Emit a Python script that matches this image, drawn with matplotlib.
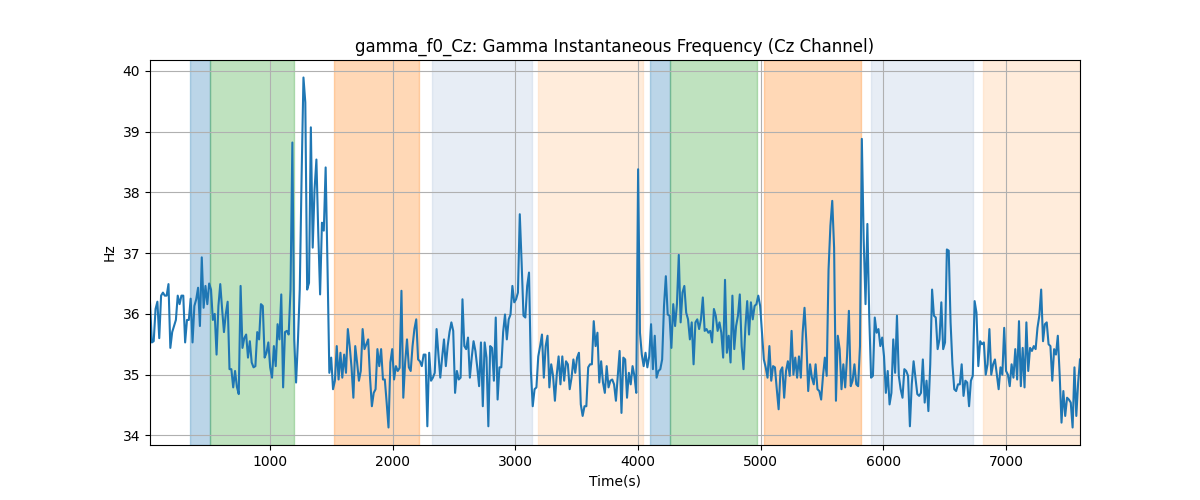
import numpy as np
import matplotlib
matplotlib.use("Agg")
import matplotlib.pyplot as plt

# gamma instantaneous frequency, Cz channel (Hz)
gamma_f0 = [
    36.19, 35.53, 35.55, 36.08, 36.2, 35.6, 36.3, 36.35, 36.3, 36.3, 36.49, 35.44, 35.7, 35.8, 35.9,
    36.3, 36.16, 36.3, 36.3, 35.53, 35.9, 35.9, 36.25, 35.53, 36.13, 36.24, 36.43, 35.8, 36.93, 36.1,
    36.46, 36.16, 36.5, 36.4, 35.9, 36.0, 35.33, 36.13, 36.49, 36.08, 35.7, 36.0, 36.2, 35.09, 35.09,
    34.79, 35.06, 34.8, 34.68,
    36.46, 35.44, 35.6, 35.66, 35.28, 35.55, 35.2, 35.12, 35.14, 35.7, 35.58, 36.16, 36.13, 35.28,
    35.36, 35.53, 35.12, 34.95, 35.47, 35.14, 35.83, 35.58, 36.32, 34.79, 35.7, 35.72, 35.66, 36.4,
    38.82, 35.58, 34.87, 35.55, 36.4, 38.27, 39.89, 39.48, 36.4, 36.51, 39.07, 37.09, 38.05, 38.54,
    37.34, 36.32, 37.5, 37.37, 38.41, 36.79, 35.03,
    35.28, 34.76, 34.9, 35.47, 34.92, 35.36, 34.95, 35.33, 35.03, 35.75, 35.47, 35.12, 34.62, 35.47,
    35.2, 34.9, 35.06, 35.75, 35.42, 35.5, 35.58, 34.95, 34.48, 34.7, 34.76, 35.42, 35.14, 35.42,
    34.92, 34.92, 34.54, 34.13, 35.2, 35.42, 34.92, 35.14, 35.06, 35.11, 36.38, 34.62, 35.2, 35.58,
    35.12, 35.06, 35.47, 35.75, 35.91, 35.25, 35.22, 35.14,
    35.33, 35.33, 34.15, 35.36, 34.9, 34.95, 35.03, 35.75, 35.33, 34.95, 35.28, 35.58, 35.14, 35.47,
    35.7, 35.86, 35.72, 34.7, 35.06, 34.92, 34.95, 36.24, 35.47, 35.42, 35.61, 34.95, 35.28, 35.55,
    35.39, 35.12, 34.81, 35.53, 34.48, 35.53, 35.28, 34.15, 35.47, 35.44, 34.9, 35.94, 34.59, 35.12,
    35.12, 35.7, 35.99, 35.58, 35.91, 35.99, 36.46,
    36.19, 36.24, 36.35, 37.64, 36.84, 35.97, 35.94, 36.46, 36.68, 35.06, 34.48, 34.76, 34.79, 35.3,
    35.47, 35.66, 34.95, 35.47, 35.64, 34.79, 35.17, 34.98, 34.57, 35.0, 35.3, 34.84, 35.3, 34.9,
    35.22, 35.17, 34.76, 34.95, 35.25, 35.03, 35.28, 35.36, 34.51, 34.32, 34.48, 34.48, 35.12, 35.17,
    35.17, 35.88, 35.47, 35.69, 34.87, 35.22, 34.87, 34.7, 35.14,
    34.79, 34.9, 34.92, 34.84, 34.57, 34.98, 35.39, 34.37, 35.28, 35.25, 34.62, 35.03, 34.84, 35.14,
    34.98, 34.7, 38.38, 35.69, 35.33, 35.14, 35.36, 35.12, 35.3, 35.83, 35.09, 35.64, 34.95, 35.06,
    35.09, 35.25, 36.13, 36.62, 35.99, 35.97, 35.44, 36.16, 35.8, 36.16, 36.97, 35.86, 36.35, 36.46,
    36.02, 35.91, 35.58, 35.86, 35.17, 35.86, 35.91, 35.75,
    35.91, 36.27, 35.72, 35.75, 35.69, 35.72, 35.53, 36.08, 35.97, 35.72, 35.86, 35.69, 35.28, 36.56,
    35.36, 35.64, 35.2, 36.3, 35.42, 35.8, 35.97, 36.32, 35.47, 35.09, 35.77, 36.21, 35.66, 36.19,
    35.91, 36.13, 36.16, 36.3, 36.13, 35.69, 35.25, 35.12, 34.95, 35.47, 34.9, 35.14, 35.12, 34.76,
    34.43, 35.06, 35.12, 34.62, 35.06, 35.22, 34.98, 35.72, 35.0,
    35.28, 34.95, 35.3, 34.95, 35.69, 36.1, 35.53, 34.73, 35.17, 34.95, 34.84, 35.17, 34.76, 34.73,
    34.59, 34.98, 35.28, 34.98, 36.73, 37.45, 37.86, 37.09, 34.57, 35.64, 35.42, 34.76, 35.17, 34.79,
    35.3, 36.05, 34.81, 34.9, 35.17, 34.84, 34.81, 35.47, 38.88, 37.23, 36.16, 37.48, 35.97, 34.95,
    34.98, 35.94, 35.69, 35.75, 35.47, 35.61, 35.3, 34.7, 35.06,
    34.51, 34.7, 35.58, 35.03, 35.97, 34.98, 34.76, 34.62, 35.09, 35.06, 34.98, 34.15, 34.84, 35.22,
    34.95, 34.68, 34.65, 34.7, 35.25, 34.54, 34.9, 34.4, 35.17, 36.4, 35.97, 35.94, 35.42, 35.58,
    36.19, 35.42, 35.53, 37.06, 37.04, 35.86, 35.17, 34.76, 34.73, 34.84, 34.84, 35.17, 34.65, 34.9,
    34.87, 34.48, 34.9, 34.98, 36.21, 36.02, 35.14,
    35.55, 35.5, 35.53, 35.0, 35.17, 35.75, 35.0, 35.17, 35.25, 35.0, 34.76, 35.12, 35.0, 35.77,
    35.06, 35.0, 34.81, 35.17, 34.95, 35.42, 34.92, 35.88, 34.81, 35.44, 34.79, 35.86, 35.06, 35.44,
    35.39, 35.47, 35.42, 35.77, 35.97, 36.4, 35.55, 35.83, 35.86, 35.5, 35.47, 34.9, 35.42, 35.33,
    35.64, 35.0, 34.21, 34.73, 34.32, 34.62, 34.59, 34.54, 34.13, 35.12, 34.32, 34.87, 35.25,
]

# recording window (s)
t_start, t_end = 22, 7603

# task segments: (start, end, colour, alpha)
seg_start = [348, 509, 1522, 2321, 3185, 4098, 4263, 5027, 5900, 6813]
seg_end = [509, 1193, 2212, 3134, 4041, 4263, 4968, 5816, 6731, 7603]
seg_color = ['tab:blue', 'tab:green', 'tab:orange', 'lightsteelblue', 'peachpuff',
             'tab:blue', 'tab:green', 'tab:orange', 'lightsteelblue', 'peachpuff']
seg_alpha = [0.3, 0.3, 0.3, 0.3, 0.5, 0.3, 0.3, 0.3, 0.3, 0.5]

time = np.linspace(t_start, t_end, len(gamma_f0))

fig, ax = plt.subplots(figsize=(12, 5), dpi=100)

for s, e, c, a in zip(seg_start, seg_end, seg_color, seg_alpha):
    ax.axvspan(s, e, color=c, alpha=a)

ax.plot(time, gamma_f0, color='tab:blue', linewidth=1.5)

ax.set_xlim(t_start, t_end)
ax.set_title('gamma_f0_Cz: Gamma Instantaneous Frequency (Cz Channel)')
ax.set_xlabel('Time(s)')
ax.set_ylabel('Hz')
ax.grid(True)

plt.savefig('out.png', dpi=100)
